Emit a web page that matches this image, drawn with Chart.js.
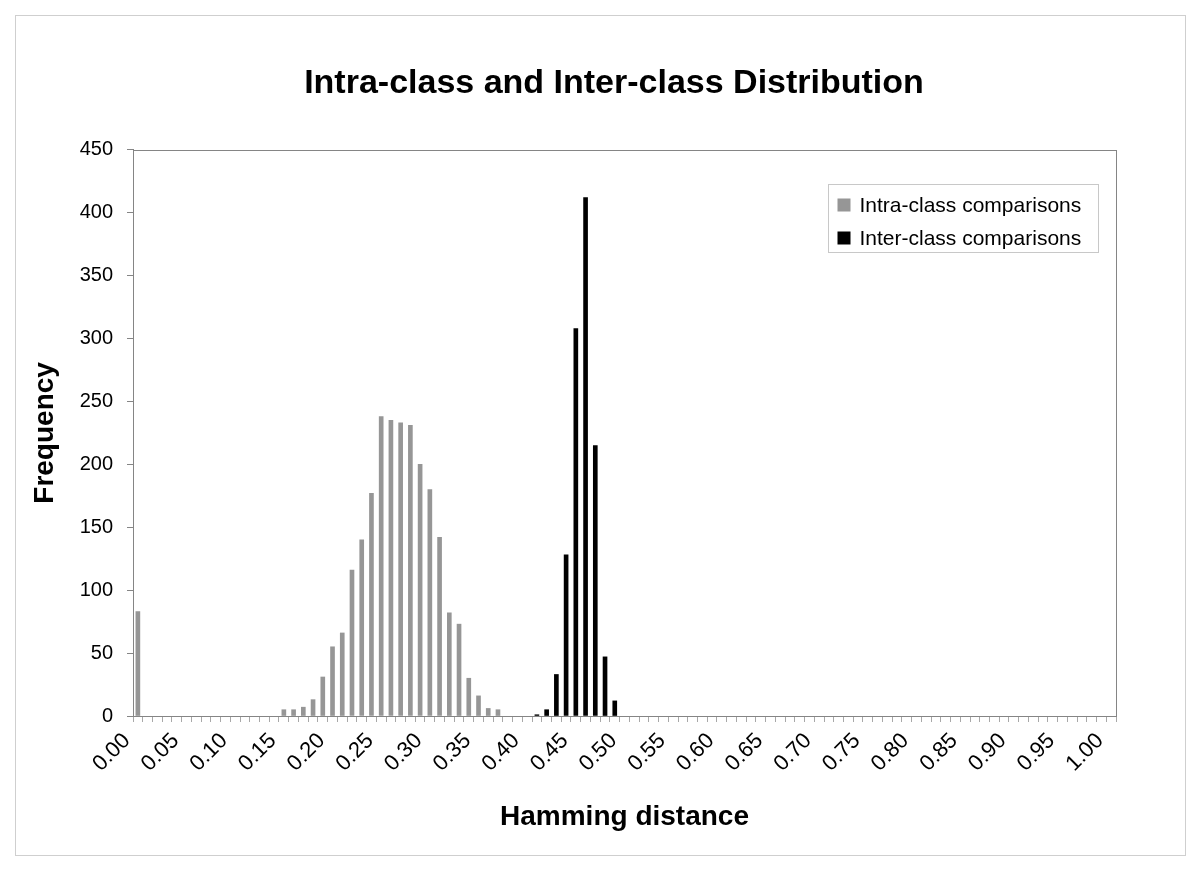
<!DOCTYPE html>
<html>
<head>
<meta charset="utf-8">
<script src="https://cdn.jsdelivr.net/npm/chart.js@4.4.1/dist/chart.umd.min.js"></script>
<style>
  html, body { margin: 0; padding: 0; background: #fff; }
  #wrap { width: 1200px; height: 876px; }
</style>
</head>
<body>
<div id="wrap"><canvas id="myChart" width="1200" height="876"></canvas></div>
<script>
// Hamming distance bins 0.00 .. 1.00 in steps of 0.01
const distLabels = [];
for (let i = 0; i <= 100; i++) distLabels.push((i / 100).toFixed(2));

// Intra-class comparisons (grey bars)
const intraBins = ['0.00', '0.15', '0.16', '0.17', '0.18', '0.19', '0.20', '0.21', '0.22', '0.23',
  '0.24', '0.25', '0.26', '0.27', '0.28', '0.29', '0.30', '0.31', '0.32', '0.33', '0.34', '0.35',
  '0.36', '0.37'];
const intraCounts = [83, 5, 5, 7, 13, 31, 55, 66, 116, 140, 177, 238, 235, 233, 231, 200, 180,
  142, 82, 73, 30, 16, 6, 5];

// Inter-class comparisons (black bars)
const interBins = ['0.41', '0.42', '0.43', '0.44', '0.45', '0.46', '0.47', '0.48', '0.49'];
const interCounts = [1, 5, 33, 128, 308, 412, 215, 47, 12];

const yTicks = [0, 50, 100, 150, 200, 250, 300, 350, 400, 450];

const FONT = "'Liberation Sans', Arial, sans-serif";
const axisGrey = '#858585';

// frame, plot border and the boxed legend inside the plot area
const decorPlugin = {
  id: 'decor',
  afterLayout(chart) {
    // centre the title a little right of the page middle, like the original
    chart.titleBlock.left = 28;
    chart.titleBlock.right = 1200;
  },
  beforeDraw(chart) {
    const ctx = chart.ctx;
    ctx.save();
    ctx.strokeStyle = '#cfcfcf';
    ctx.lineWidth = 1;
    ctx.strokeRect(15.5, 15.5, 1170, 840);
    ctx.restore();
  },
  afterDraw(chart) {
    const ctx = chart.ctx;
    const a = chart.chartArea;
    ctx.save();
    ctx.strokeStyle = axisGrey;
    ctx.lineWidth = 1;
    ctx.strokeRect(Math.round(a.left) + 0.5, Math.round(a.top) + 0.5,
      Math.round(a.right - a.left), Math.round(a.bottom - a.top));

    // legend
    const w = 270, h = 68;
    const lx = Math.round(a.right - 18 - w) + 0.5;
    const ly = Math.round(a.top + 34) + 0.5;
    ctx.strokeStyle = '#c8c8c8';
    ctx.strokeRect(lx, ly, w, h);
    ctx.font = '21px ' + FONT;
    ctx.textBaseline = 'middle';
    ctx.textAlign = 'left';
    chart.data.datasets.forEach((ds, i) => {
      const cy = ly + 21 + i * 33;
      ctx.fillStyle = ds.backgroundColor;
      ctx.fillRect(lx + 9, cy - 7, 13, 13);
      ctx.fillStyle = '#000';
      ctx.fillText(ds.label, lx + 31, cy + 1);
    });
    ctx.restore();
  }
};

new Chart(document.getElementById('myChart'), {
  type: 'bar',
  data: {
    labels: distLabels,
    datasets: [{
      label: 'Intra-class comparisons',
      data: intraBins.map((b, i) => ({ x: b, y: intraCounts[i] })),
      backgroundColor: '#969696',
      barThickness: 4,
      grouped: false,
      clip: false
    }, {
      label: 'Inter-class comparisons',
      data: interBins.map((b, i) => ({ x: b, y: interCounts[i] })),
      backgroundColor: '#000000',
      barThickness: 4,
      grouped: false,
      clip: false
    }]
  },
  options: {
    responsive: false,
    animation: false,
    layout: { padding: { top: 20, left: 20, right: 84, bottom: 20 } },
    plugins: {
      legend: { display: false },
      tooltip: { enabled: false },
      title: {
        display: true,
        text: 'Intra-class and Inter-class Distribution',
        color: '#000',
        font: { family: FONT, size: 34, weight: 'bold' },
        padding: { top: 43, bottom: 46 }
      }
    },
    scales: {
      x: {
        offset: true,
        grid: { display: true, offset: true, drawOnChartArea: false, drawTicks: true, tickLength: 6, color: '#a8a8a8' },
        border: { display: true, color: axisGrey, width: 1 },
        ticks: {
          autoSkip: false,
          minRotation: 45,
          maxRotation: 45,
          padding: 6,
          labelOffset: -11,
          color: '#000',
          font: { family: FONT, size: 22 },
          callback: function (value, index) {
            return index % 5 === 0 ? this.getLabelForValue(value) : '';
          }
        },
        title: {
          display: true,
          text: 'Hamming distance',
          color: '#000',
          font: { family: FONT, size: 28, weight: 'bold' },
          padding: { top: 0, bottom: 22 }
        },
        afterFit: (scale) => { scale.height = 140; }
      },
      y: {
        min: 0,
        max: yTicks[yTicks.length - 1],
        afterBuildTicks: (scale) => { scale.ticks = yTicks.map(v => ({ value: v })); },
        grid: { display: true, drawOnChartArea: false, drawTicks: true, tickLength: 6, color: axisGrey },
        border: { display: true, color: axisGrey, width: 1 },
        ticks: {
          padding: 14,
          color: '#000',
          font: { family: FONT, size: 20 }
        },
        title: {
          display: true,
          text: 'Frequency',
          color: '#000',
          font: { family: FONT, size: 28, weight: 'bold' },
          padding: { top: 8, bottom: 0 }
        },
        afterFit: (scale) => { scale.width = 113; }
      }
    }
  },
  plugins: [decorPlugin]
});
</script>
</body>
</html>
